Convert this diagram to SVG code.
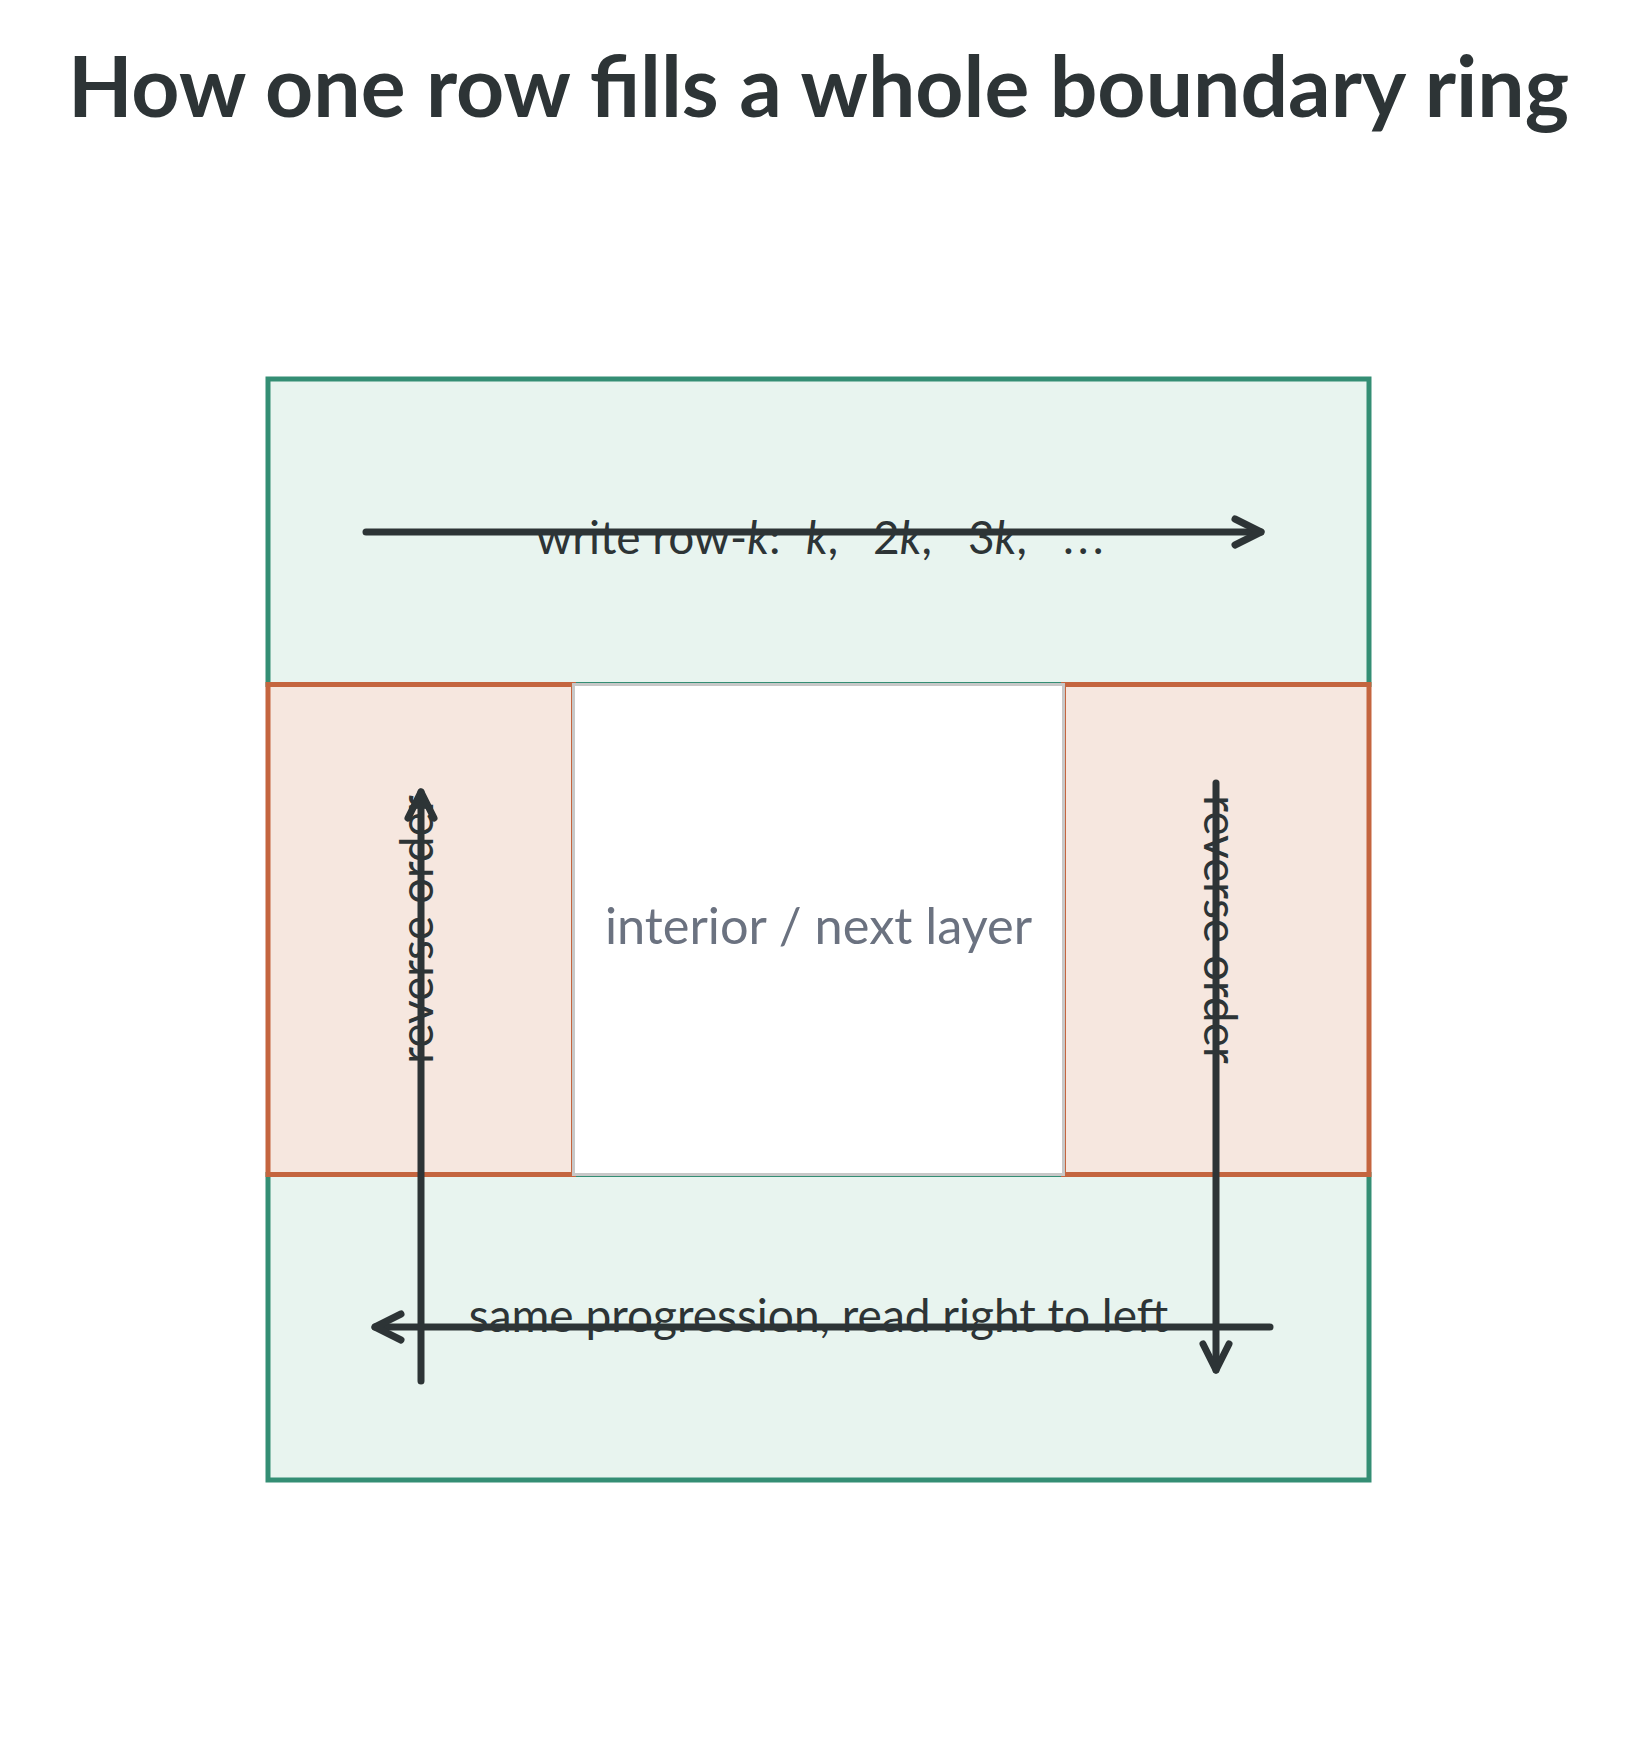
<svg xmlns="http://www.w3.org/2000/svg" width="1637" height="1748" viewBox="0 0 1637 1748">
<style>
.title{font-family:Lato,"Noto Sans",sans-serif;font-weight:700;font-size:84px;fill:#2d3436;text-anchor:middle}
.band{fill:#e8f4ef;stroke:#348e74;stroke-width:5}
.side{fill:#f6e7df;stroke:#c4653f;stroke-width:5}
.inner{fill:#ffffff;stroke:#c8c8c8;stroke-width:3}
.lbl{font-family:Lato,"Noto Sans",sans-serif;font-size:46px;fill:#2d3436;text-anchor:middle}
.ilbl{font-family:Lato,"Noto Sans",sans-serif;font-size:50.5px;fill:#6b7280;text-anchor:middle}
.arr{fill:none;stroke:#2d3436;stroke-width:7;stroke-linecap:round;marker-end:url(#chev)}
.it{font-style:italic}
</style>
<defs>
<marker id="chev" markerUnits="userSpaceOnUse" markerWidth="60" markerHeight="60" refX="0" refY="0" orient="auto" overflow="visible" viewBox="-30 -30 60 60">
<path d="M-26,-13 L0,0 L-26,13" fill="none" stroke="#2d3436" stroke-width="7" stroke-linecap="round" stroke-linejoin="round"/>
</marker>
</defs>
<rect width="1637" height="1748" fill="#ffffff"/>
<text class="title" x="818.5" y="117">How one row fills a whole boundary ring</text>
<g id="top-band"><rect class="band" x="268" y="379" width="1101" height="305.5"/></g>
<g id="bottom-band"><rect class="band" x="268" y="1174.5" width="1101" height="305.5"/></g>
<g id="left-side"><rect class="side" x="268" y="684.5" width="305.5" height="490"/></g>
<g id="right-side"><rect class="side" x="1063.5" y="684.5" width="305.5" height="490"/></g>
<g id="interior"><rect class="inner" x="573.5" y="684.5" width="490" height="490"/>
<text class="ilbl" x="818.5" y="944">interior / next layer</text></g>
<g id="connectors">
<path class="arr" d="M366,532 L1261,532"/>
<path class="arr" d="M421,1381 L421,792"/>
<path class="arr" d="M1216,783 L1216,1370"/>
<path class="arr" d="M1270,1327 L375,1327"/>
</g>
<g id="labels">
<text class="lbl" style="text-anchor:start" y="554"><tspan x="536">write row-</tspan><tspan class="it">k</tspan>:<tspan class="it" x="806">k</tspan>,<tspan x="873">2</tspan><tspan class="it">k</tspan>,<tspan x="968">3</tspan><tspan class="it">k</tspan>,<tspan x="1063" letter-spacing="4">...</tspan></text>
<text class="lbl" x="818.5" y="1332">same progression, read right to left</text>
<text class="lbl" transform="translate(433,929.5) rotate(-90)" x="0" y="0">reverse order</text>
<text class="lbl" transform="translate(1204,929.5) rotate(90)" x="0" y="0">reverse order</text>
</g>
</svg>
